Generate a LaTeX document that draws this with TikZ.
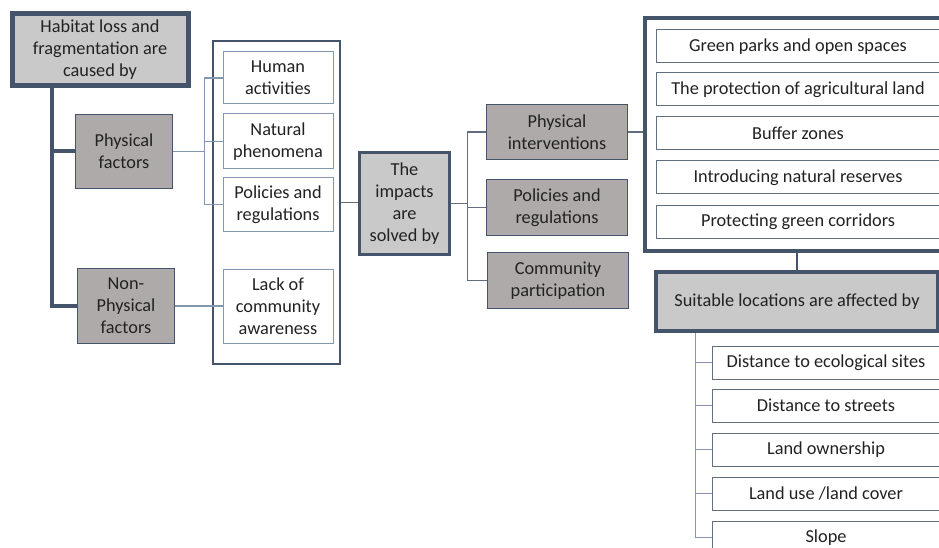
\documentclass[tikz,border=0pt]{standalone}
\usepackage{fontspec}
\setmainfont{Carlito}
\usepackage{xcolor}
\usetikzlibrary{positioning}

\definecolor{slate}{HTML}{44546A}
\definecolor{slatelt}{HTML}{8497B0}
\definecolor{headfill}{HTML}{C9C9C9}
\definecolor{subfill}{HTML}{AEAAAA}
\definecolor{ink}{HTML}{222222}

\begin{document}
\begin{tikzpicture}[
  x=1pt, y=-1pt,
  font=\fontsize{18.3}{22}\selectfont, text=ink,
  head/.style={rectangle, draw=slate, line width=4pt, fill=headfill, align=center, inner sep=1pt},
  sub/.style={rectangle, draw=slate, line width=1.8pt, fill=subfill, align=center, inner sep=1pt},
  item/.style={rectangle, draw=slatelt, line width=1pt, fill=white, align=center, inner sep=1pt},
  frame/.style={rectangle, draw=slate, fill=white, inner sep=0pt},
  trunk/.style={draw=slate, line width=4pt},
  link/.style={draw=slatelt, line width=1.2pt}
]
\useasboundingbox (0,0) rectangle (939,548);
\clip (0,0) rectangle (939,548);
% causes
\node[head, line width=5pt, minimum width=176pt, minimum height=72pt] (title) at (100,50) {Habitat loss and\\fragmentation are\\caused by};
\node[sub, minimum width=97pt, minimum height=74pt] (phys)    at (124,151.5) {Physical\\factors};
\node[sub, minimum width=97pt, minimum height=75pt] (nonphys) at (126,306)   {Non-\\Physical\\factors};
% factor list
\node[frame, line width=1.5pt, minimum width=127pt, minimum height=323pt] (causes) at (276.5,202.5) {};
\node[item, minimum width=110pt, minimum height=52pt] (human)   at (278,78)    {Human\\activities};
\node[item, minimum width=110pt, minimum height=55pt] (natural) at (278,141.5) {Natural\\phenomena};
\node[item, minimum width=110pt, minimum height=53pt] (rules)   at (278,204.5) {Policies and\\regulations};
\node[item, minimum width=110pt, minimum height=74pt] (lack)    at (278,306)   {Lack of\\community\\awareness};
% solutions
\node[head, line width=3.5pt, minimum width=90pt, minimum height=102pt] (impacts) at (404.5,203.5) {The\\impacts\\are\\solved by};
\node[sub, minimum width=141pt, minimum height=55pt] (physint) at (557,132)   {Physical\\interventions};
\node[sub, minimum width=141pt, minimum height=56pt] (policy)  at (557,207.5) {Policies and\\regulations};
\node[sub, minimum width=141pt, minimum height=56pt] (commun)  at (558,280.5) {Community\\participation};
% physical interventions
\node[frame, line width=4pt, minimum width=304pt, minimum height=232pt] (measures) at (796.5,134.5) {};
\node[item, draw=slate!85, minimum width=284pt, minimum height=33pt] (parks)    at (798,46.5)  {Green parks and open spaces};
\node[item, draw=slate!85, minimum width=284pt, minimum height=33pt] (agri)     at (798,89.5)  {The protection of agricultural land};
\node[item, draw=slate!85, minimum width=284pt, minimum height=33pt] (buffer)   at (798,133.5) {Buffer zones};
\node[item, draw=slate!85, minimum width=284pt, minimum height=33pt] (reserves) at (798,177.5) {Introducing natural reserves};
\node[item, draw=slate!85, minimum width=284pt, minimum height=33pt] (corridor) at (798,221.5) {Protecting green corridors};
% location criteria
\node[head, minimum width=282pt, minimum height=59pt] (suitable) at (797,301.5) {Suitable locations are affected by};
\node[item, draw=slate!85, minimum width=228pt, minimum height=33pt] (ecosites) at (826,362.5) {Distance to ecological sites};
\node[item, draw=slate!85, minimum width=228pt, minimum height=33pt] (streets)  at (826,405.5) {Distance to streets};
\node[item, draw=slate!85, minimum width=228pt, minimum height=33pt] (owner)    at (826,449.5) {Land ownership};
\node[item, draw=slate!85, minimum width=228pt, minimum height=33pt] (landuse)  at (826,493.5) {Land use /land cover};
\node[item, draw=slate!85, minimum width=228pt, minimum height=33pt] (slope)    at (826,537.5) {Slope};
% links
\coordinate (t1) at ([xshift=-48pt]title.south);
\draw[trunk] (t1) |- (nonphys.west);
\draw[trunk] (phys.west) -- (phys.west -| t1);
\coordinate (b1) at ([xshift=-18pt]human.west);
\draw[link] (phys.east) -- (phys.east -| b1);
\draw[link] (human.west) -| (b1) |- (rules.west);
\draw[link] (natural.west) -- (natural.west -| b1);
\draw[link] (nonphys.east) -- (lack.west);
\draw[link, draw=slate!85] (causes.east) -- (causes.east -| impacts.west);
\coordinate (b2) at ([xshift=-18pt]physint.west);
\draw[link, draw=slate!85] (impacts.east) -- (impacts.east -| b2);
\draw[link, draw=slate!85] (physint.west) -| (b2) |- (commun.west);
\draw[link, draw=slate!85] (policy.west) -- (policy.west -| b2);
\draw[link, draw=slate!85] (physint.east) -- (physint.east -| measures.west);
\draw[link, draw=slate, line width=2pt] (measures.south -| suitable.north) -- (suitable.north);
\coordinate (b3) at ([xshift=-16pt]ecosites.west);
\draw[link] (suitable.south -| b3) |- (slope.west);
\foreach \n in {ecosites,streets,owner,landuse}
  \draw[link] (\n.west) -- (\n.west -| b3);
\end{tikzpicture}
\end{document}
